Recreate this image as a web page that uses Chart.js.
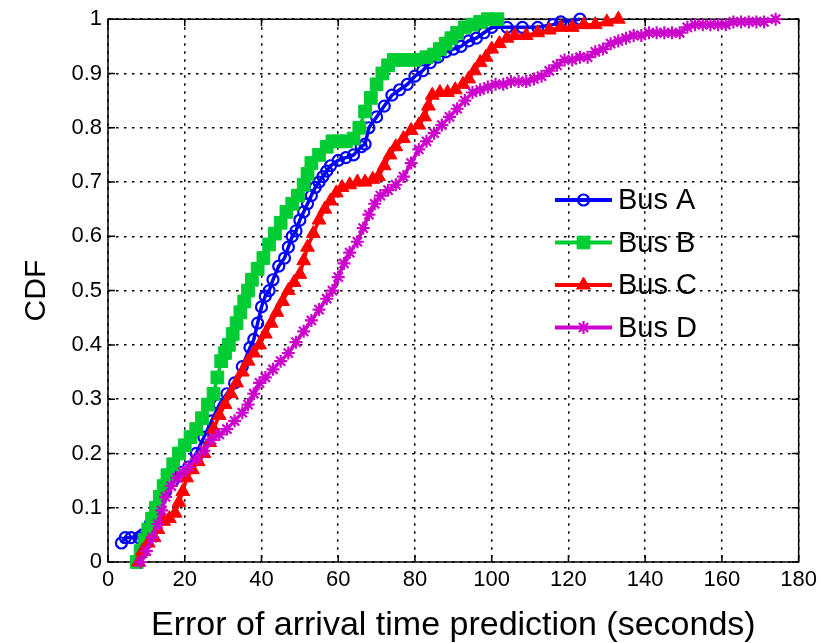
<!DOCTYPE html>
<html><head><meta charset="utf-8">
<script src="https://cdn.jsdelivr.net/npm/chart.js@4.4.0/dist/chart.umd.min.js"></script>
<style>html,body{margin:0;padding:0;background:#fff;}#wrap{width:822px;height:643px;}</style>
</head><body><div id="wrap"><canvas id="c" width="822" height="643"></canvas></div>
<script>
const xTickValues = [0,20,40,60,80,100,120,140,160,180];
const yTickValues = [0,0.1,0.2,0.3,0.4,0.5,0.6,0.7,0.8,0.9,1];
const seriesNames = ['Bus A','Bus B','Bus C','Bus D'];
const xTitle = 'Error of arrival time prediction (seconds)';
const yTitle = 'CDF';

const busA_x = [3.5,4.5,6,8,9,11,13,15,17,19,21,23,25,27,29,31,33,35,37,38,39,40,41,42,43,44.5,46,47,48,49,50,51,52,53,54,55,56,57,58,60,62,64,66,67,68,70,72,74,76,78,80,82,84,86,88,90,92,94,96,98,100,104,108,112,116,118,123];
const busA_y = [0.035,0.045,0.045,0.045,0.05,0.07,0.1,0.13,0.15,0.165,0.175,0.2,0.23,0.26,0.29,0.31,0.33,0.36,0.395,0.41,0.44,0.47,0.49,0.5,0.52,0.545,0.56,0.58,0.6,0.61,0.63,0.645,0.66,0.675,0.69,0.7,0.71,0.72,0.73,0.74,0.745,0.75,0.765,0.77,0.8,0.82,0.84,0.86,0.87,0.88,0.895,0.905,0.92,0.93,0.94,0.945,0.95,0.96,0.965,0.975,0.985,0.985,0.985,0.985,0.99,0.995,1.0];

const busB_x = [7.5,8.5,9.5,10.5,11.5,12.5,13.5,14.5,15.5,17,18.5,20,21.5,23,24.5,26,27.5,28.5,29.5,30.5,31.5,32.5,33.5,34.5,35.5,36.5,37.5,39,40.5,42,43.5,45,46.5,48,49.5,51,52,53,55,57,58.5,60,62,64,65.5,67,68.5,70,71.5,73,74.5,77,80,83,85,86.5,88,89.5,91,93,95,97,99,101.5];
const busB_y = [0,0.02,0.04,0.06,0.08,0.1,0.12,0.14,0.16,0.18,0.2,0.215,0.23,0.245,0.265,0.29,0.31,0.34,0.37,0.385,0.4,0.42,0.44,0.46,0.48,0.5,0.52,0.54,0.56,0.585,0.605,0.625,0.645,0.66,0.675,0.695,0.715,0.735,0.75,0.765,0.775,0.775,0.775,0.78,0.8,0.83,0.855,0.88,0.9,0.915,0.925,0.925,0.925,0.93,0.935,0.945,0.955,0.965,0.975,0.985,0.99,0.995,1.0,1.0];

const busC_x = [8,9,10.5,12,13,14.5,16,17.5,18.5,19.5,20.5,22,23.5,25,26.5,27.5,29,30.5,32,33.5,35,36.5,38,39.5,41,42.5,44,45.5,47,48.5,50,51,52,53.5,55,56.5,58,59.5,61,63,65,67,69,70.5,72,73.5,75,77,79,81,82.5,83.5,84.5,86.5,88.5,90.5,92.5,94,95.5,97,98.5,100,102,104,106,109,112,115,118,121,124,127,130,133];
const busC_y = [0,0.02,0.035,0.045,0.06,0.075,0.08,0.09,0.11,0.13,0.155,0.17,0.185,0.2,0.22,0.245,0.27,0.29,0.31,0.33,0.35,0.37,0.385,0.4,0.42,0.44,0.46,0.48,0.5,0.515,0.53,0.555,0.58,0.605,0.63,0.65,0.665,0.68,0.69,0.695,0.7,0.7,0.705,0.71,0.73,0.75,0.765,0.78,0.795,0.805,0.82,0.84,0.86,0.865,0.865,0.87,0.88,0.89,0.905,0.92,0.93,0.945,0.955,0.965,0.97,0.97,0.975,0.98,0.985,0.985,0.99,0.99,0.995,1.0];

const busD_x = [8.5,10,11.5,13,14,15,16.5,18,19.5,21,23,25,27,29,31,33,35,36.5,38,39.5,41,43,45,47,49,51,53,55,57,58.5,60,61.5,63,65,66.5,68,69.5,71,73,75,77,79,81,83,85,87,89,91,93,95,97,99,101,103,105,107,109,111,113,115,117,119,121,123,125,127,129,131,133,135,137,139,141,143,145,147,149,151,153,155,157,159,161,163,165,167,169,171,174];
const busD_y = [0,0.02,0.045,0.07,0.095,0.12,0.14,0.155,0.165,0.175,0.19,0.205,0.225,0.235,0.245,0.26,0.275,0.29,0.31,0.33,0.34,0.355,0.37,0.385,0.405,0.425,0.445,0.465,0.485,0.5,0.525,0.55,0.57,0.59,0.615,0.64,0.66,0.675,0.685,0.695,0.71,0.735,0.76,0.775,0.79,0.805,0.82,0.835,0.85,0.865,0.87,0.875,0.88,0.88,0.885,0.885,0.885,0.89,0.895,0.905,0.915,0.925,0.925,0.93,0.93,0.94,0.945,0.955,0.96,0.965,0.97,0.97,0.975,0.975,0.975,0.975,0.975,0.985,0.99,0.99,0.99,0.99,0.99,0.995,0.995,0.995,0.995,0.995,1.0];

function pts(xs, ys){ return xs.map((x,i)=>({x:x, y:ys[i]})); }

const FONT = "'Liberation Sans', Arial, Helvetica, sans-serif";

const styles = [
  {color:'#0000FF', fill:'rgba(0,0,0,0)', pointStyle:'circle', radius:5.5, bw:2.2, order:3},
  {color:'#00CC33', fill:'#00CC33', pointStyle:'rect', radius:9, bw:1, order:2},
  {color:'#FF0000', fill:'#FF0000', pointStyle:'triangle', radius:8, bw:1, order:1},
  {color:'#CC00CC', fill:'#CC00CC', pointStyle:'star', radius:6.5, bw:2.2, order:0}
];
const seriesData = [pts(busA_x,busA_y), pts(busB_x,busB_y), pts(busC_x,busC_y), pts(busD_x,busD_y)];

const datasets = seriesNames.map((name,i)=>({
  label: name,
  data: seriesData[i],
  borderColor: styles[i].color,
  backgroundColor: styles[i].fill,
  pointBorderColor: styles[i].color,
  pointBackgroundColor: styles[i].fill,
  pointStyle: styles[i].pointStyle,
  pointRadius: styles[i].radius,
  pointBorderWidth: styles[i].bw,
  borderWidth: 3.5,
  tension: 0,
  fill: false,
  clip: false,
  order: styles[i].order
}));

const boxPlugin = {
  id: 'boxPlugin',
  beforeDatasetsDraw(chart){
    const {ctx, chartArea:a, scales:{x, y}} = chart;
    ctx.save();
    ctx.strokeStyle = '#000';
    ctx.lineWidth = 1.5;
    ctx.strokeRect(a.left, a.top, a.right-a.left, a.bottom-a.top);
    const tl = 7;
    ctx.beginPath();
    xTickValues.forEach(v=>{
      const px = x.getPixelForValue(v);
      ctx.moveTo(px, a.bottom); ctx.lineTo(px, a.bottom - tl);
      ctx.moveTo(px, a.top); ctx.lineTo(px, a.top + tl);
    });
    yTickValues.forEach(v=>{
      const py = y.getPixelForValue(v);
      ctx.moveTo(a.left, py); ctx.lineTo(a.left + tl, py);
      ctx.moveTo(a.right, py); ctx.lineTo(a.right - tl, py);
    });
    ctx.stroke();
    ctx.restore();
  }
};

const legendPlugin = {
  id: 'legendPlugin',
  afterDraw(chart){
    const ctx = chart.ctx;
    ctx.save();
    const x0 = 555, x1 = 612, tx = 618, y0 = 200, dy = 42.5;
    chart.data.datasets.forEach((ds,i)=>{
      const yy = y0 + i*dy;
      ctx.strokeStyle = ds.borderColor;
      ctx.lineWidth = 4;
      ctx.beginPath(); ctx.moveTo(x0, yy); ctx.lineTo(x1, yy); ctx.stroke();
      ctx.fillStyle = ds.pointBackgroundColor;
      ctx.strokeStyle = ds.pointBorderColor;
      ctx.lineWidth = ds.pointBorderWidth;
      Chart.helpers.drawPoint(ctx, {pointStyle: ds.pointStyle, radius: ds.pointRadius, rotation: 0, borderWidth: ds.pointBorderWidth}, (x0+x1)/2, yy);
      ctx.fillStyle = '#000';
      ctx.font = '29px ' + FONT;
      ctx.textBaseline = 'middle';
      ctx.textAlign = 'left';
      ctx.fillText(ds.label, tx, yy + 1);
    });
    ctx.restore();
  }
};

new Chart(document.getElementById('c'), {
  type: 'line',
  data: { datasets },
  options: {
    responsive: false,
    animation: false,
    devicePixelRatio: 1,
    layout: { padding: { left: 0, right: 20, top: 16, bottom: 0 } },
    plugins: { legend: { display: false }, tooltip: { enabled: false } },
    scales: {
      x: {
        type: 'linear', min: 0, max: 180,
        afterBuildTicks(s){ s.ticks = xTickValues.map(v=>({value:v})); },
        afterFit(s){ s.height = 81; },
        ticks: { color: '#000', font: { size: 22, family: FONT }, padding: 5, maxRotation: 0, autoSkip: false,
                 callback: v => String(v) },
        grid: { color: '#000', lineWidth: 1.5, drawTicks: false },
        border: { display: false, dash: [2.5,5.5] },
        title: { display: true, text: xTitle, color: '#000', font: { size: 34, family: FONT }, padding: { top: 0, bottom: -3 } }
      },
      y: {
        type: 'linear', min: 0, max: 1,
        afterBuildTicks(s){ s.ticks = yTickValues.map(v=>({value:v})); },
        afterFit(s){ s.width = 108; },
        ticks: { color: '#000', font: { size: 22, family: FONT }, padding: 6, autoSkip: false,
                 callback: v => String(Math.round(v*10)/10) },
        grid: { color: '#000', lineWidth: 1.5, drawTicks: false },
        border: { display: false, dash: [2.5,5.5] },
        title: { display: true, text: yTitle, color: '#000', font: { size: 30, family: FONT }, padding: { top: 19, bottom: 0 } }
      }
    }
  },
  plugins: [boxPlugin, legendPlugin]
});
</script>
</body></html>
